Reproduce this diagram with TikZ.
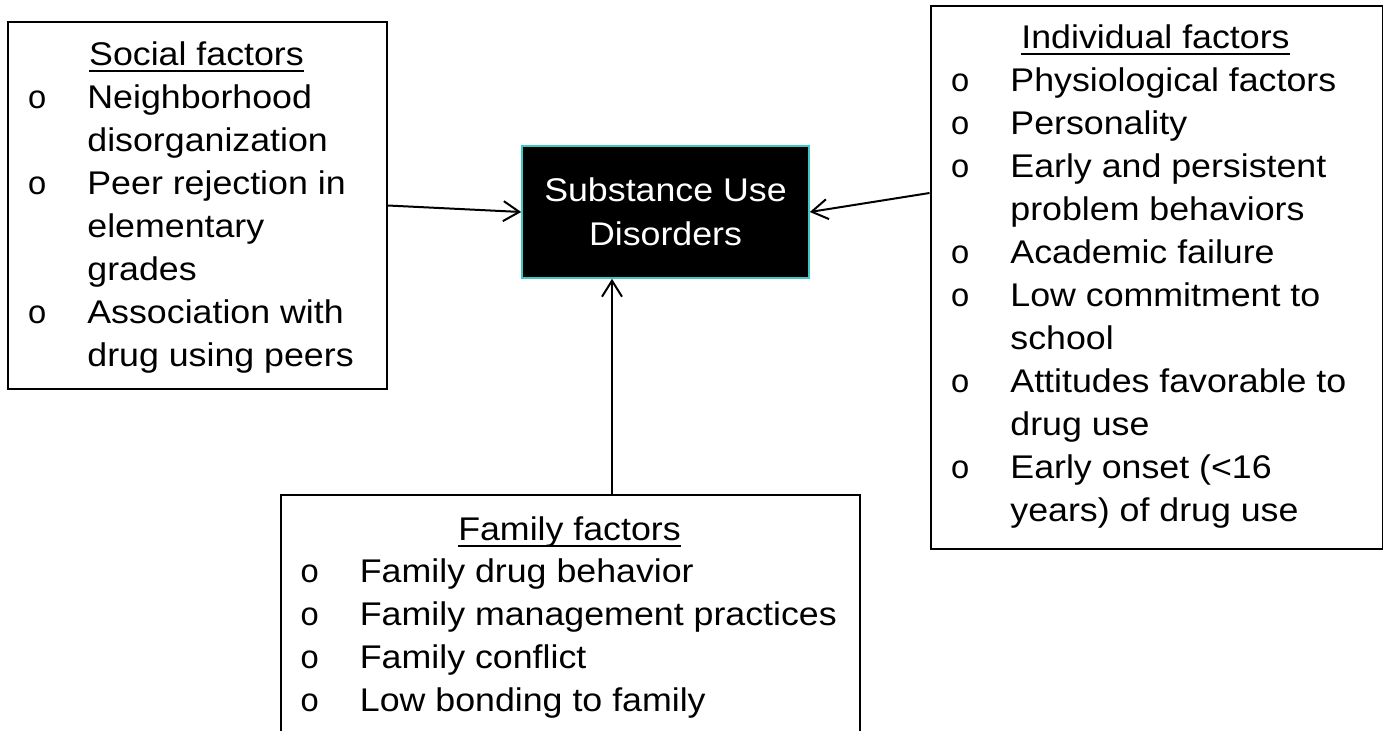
\documentclass[tikz,border=0pt]{standalone}
\usepackage{fontspec}
\setmainfont{Liberation Sans}[FakeStretch=1.09]
\newfontfamily\bulletfont{Liberation Mono}
\usetikzlibrary{arrows.meta}
\definecolor{rimcyan}{HTML}{3CC8C8}
\tikzset{factorbox/.style={draw, line width=1pt, inner sep=0pt, anchor=north west}}
\tikzset{corebox/.style={fill=black, draw=rimcyan, line width=0.8pt, text=white, align=center, inner sep=0pt, minimum width=143.5pt, minimum height=66pt, font=\fontsize{16.4}{22}\selectfont}}
\tikzset{heading/.style={anchor=base, inner sep=0pt, font=\fontsize{16.4}{21.5}\selectfont}}
\tikzset{itemlist/.style={anchor=base west, inner sep=0pt, font=\fontsize{16.4}{21.5}\selectfont}}
\tikzset{link/.style={line width=1pt, -{Straight Barb[length=8pt, width=10pt, line width=1pt]}}}
\newcommand{\bul}{{\bulletfont o}}
\newcommand{\headtext}[1]{\setbox0=\hbox{#1}\rlap{\rule[-3.3pt]{\wd0}{0.9pt}}\box0}

\begin{document}
\begin{tikzpicture}[x=0.5pt, y=-0.5pt]
            \useasboundingbox (0, 0) rectangle (1383, 730);
            \clip (0, 0) rectangle (1383, 730);

            \node[factorbox, minimum width=189.5pt, minimum height=183.5pt] (social) at (7, 21) {};
            \node[heading] (socialhead) at (196.5, 65) {\headtext{Social factors}};
            \node[itemlist] (sociallist) at (27, 108) {\begin{tabular}[t]{@{}p{30pt}@{}l@{}}
                \bul & Neighborhood\\ & disorganization\\
                \bul & Peer rejection in\\ & elementary\\ & grades\\
                \bul & Association with\\ & drug using peers
            \end{tabular}};

            \node[corebox] (sud) at (665.5, 212) {Substance Use\\Disorders};

            \node[factorbox, minimum width=226pt, minimum height=271.5pt] (indiv) at (929.5, 5) {};
            \node[heading] (indivhead) at (1155.5, 48) {\headtext{Individual factors}};
            \node[itemlist] (indivlist) at (950, 91) {\begin{tabular}[t]{@{}p{30pt}@{}l@{}}
                \bul & Physiological factors\\
                \bul & Personality\\
                \bul & Early and persistent\\ & problem behaviors\\
                \bul & Academic failure\\
                \bul & Low commitment to\\ & school\\
                \bul & Attitudes favorable to\\ & drug use\\
                \bul & Early onset (<16\\ & years) of drug use
            \end{tabular}};

            \node[factorbox, minimum width=289.5pt, minimum height=150pt] (family) at (280, 494) {};
            \node[heading] (familyhead) at (569.5, 540) {\headtext{Family factors}};
            \node[itemlist] (familylist) at (299.5, 582) {\begin{tabular}[t]{@{}p{30pt}@{}l@{}}
                \bul & Family drug behavior\\
                \bul & Family management practices\\
                \bul & Family conflict\\
                \bul & Low bonding to family
            \end{tabular}};

            \draw[link] (social.east) -- (sud.west);
            \draw[link] ([yshift=42.25pt]indiv.west) -- (sud.east);
            \draw[link] ([xshift=-26.75pt]sud.south |- family.north) -- ([xshift=-26.75pt]sud.south);
        \end{tikzpicture}
\end{document}
